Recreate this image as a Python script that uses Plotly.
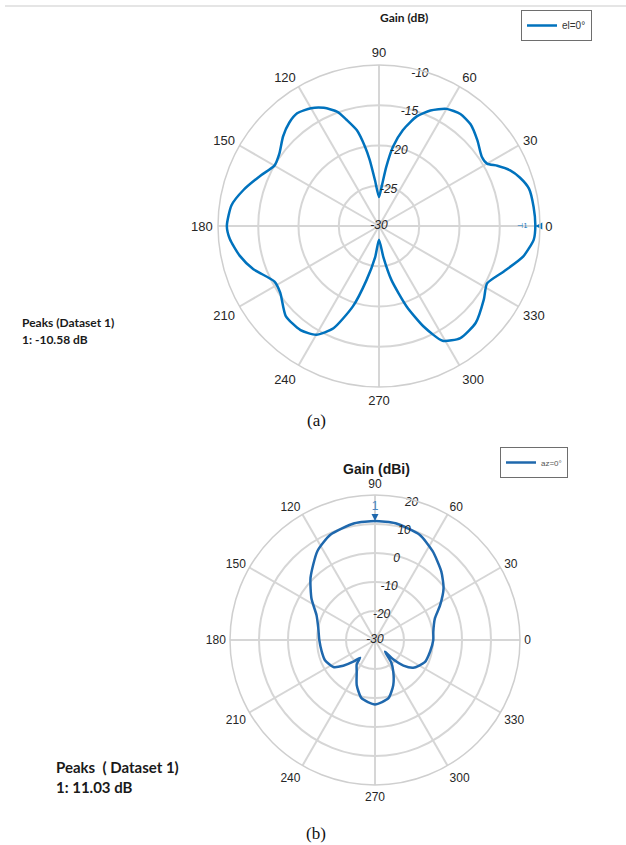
import plotly.graph_objects as go

# ---- Pattern (a): azimuth cut, el = 0 deg ----
angles_a = [0, 7, 14, 19, 23, 27, 30, 34, 41, 48, 54, 60, 66, 71, 76, 80, 83, 86, 90,
            95, 98, 100, 103, 107, 110, 115, 120, 126, 131, 137, 144, 150, 157, 165, 172, 180,
            185, 192, 199, 208, 214, 224, 233, 240, 246, 252, 257, 263, 270,
            278, 283, 289, 294, 299, 306, 315, 325, 332, 340, 348, 355, 360]
gain_a = [-10.58, -10.65, -10.8, -11.5, -12.3, -13.5, -14.5, -14.6, -13.8, -13.0, -12.8, -13.2,
          -14.3, -15.6, -17.7, -20.0, -22.6, -25.0, -26.4,
          -24.3, -21.7, -20.0, -17.8, -16.2, -14.9, -13.8, -13.1, -12.7, -13.0, -13.7, -14.7,
          -15.0, -14.0, -12.6, -11.5, -11.1,
          -11.4, -12.3, -13.5, -15.3, -15.2, -13.9, -13.8, -14.4, -16.1, -19.5, -23.1, -26.1, -28.3,
          -26.1, -23.1, -19.4, -16.3, -13.7, -12.8, -13.0, -14.1, -14.8, -13.5, -11.7, -10.7, -10.58]
peak_a_angle = [0]
peak_a_gain = [-10.58]
range_a = [-30, -10]
rticks_a = [-30, -25, -20, -15, -10]

# ---- Pattern (b): elevation cut, az = 0 deg ----
angles_b = [0, 8, 20, 28, 37, 46, 57, 67, 80, 90, 100, 113, 123, 136, 147, 157, 168, 180,
            192, 202, 213, 219, 225, 230, 233, 240, 248, 257, 270,
            283, 292, 300, 306, 310.5, 313, 318, 324, 336, 348, 360]
gain_b = [-9.9, -9.7, -8.0, -4.6, -0.4, 2.9, 6.5, 9.4, 10.9, 11.03, 10.9, 9.4, 6.5, 0.9, -3.9,
          -8.1, -10.0, -10.8,
          -11.2, -11.4, -12.9, -15.9, -19.4, -22.0, -19.5, -17.4, -13.2, -9.4, -7.8,
          -9.4, -13.2, -17.4, -20.5, -24.7, -21.0, -16.8, -13.7, -11.2, -10.6, -9.9]
peak_b_angle = [90]
peak_b_gain = [11.03]
range_b = [-30, 20]
rticks_b = [-30, -20, -10, 0, 10, 20]

theta_ticks = list(range(0, 360, 30))
RLABEL_ANGLE = 75  # direction along which the radial (dB) labels are written


def label_r(ticks, lo, inset):
    # pull each radial label slightly inside its ring, but never below the centre value
    return [max(t - inset, lo) for t in ticks]


fig = go.Figure()

fig.add_trace(go.Scatterpolar(
    r=gain_a, theta=angles_a, mode="lines", name="el=0°",
    line=dict(color="#0072BD", width=2.5, shape="spline", smoothing=0.6),
    subplot="polar", legend="legend"))
# radial tick labels (a), written on top of the grid and curve
fig.add_trace(go.Scatterpolar(
    r=label_r(rticks_a, range_a[0], 0.4), theta=[RLABEL_ANGLE] * len(rticks_a), mode="text",
    text=[str(t) for t in rticks_a],
    textfont=dict(size=12, color="#262626", family="Liberation Sans", style="italic"),
    showlegend=False, subplot="polar", cliponaxis=False, hoverinfo="skip"))
# peak marker (a): arrow tip sits on the peak, index label just inside
fig.add_trace(go.Scatterpolar(
    r=peak_a_gain, theta=peak_a_angle, mode="markers",
    marker=dict(symbol="arrow-left", size=7, color="#0072BD"),
    showlegend=False, subplot="polar", cliponaxis=False))
fig.add_trace(go.Scatterpolar(
    r=[g - 1.6 for g in peak_a_gain], theta=peak_a_angle, mode="text", text=["⊣1"],
    textfont=dict(size=7, color="#0072BD", family="Liberation Sans"),
    showlegend=False, subplot="polar", cliponaxis=False))

fig.add_trace(go.Scatterpolar(
    r=gain_b, theta=angles_b, mode="lines", name="az=0°",
    line=dict(color="#1f68ad", width=2.5, shape="spline", smoothing=0.6),
    subplot="polar2", legend="legend2"))
fig.add_trace(go.Scatterpolar(
    r=label_r(rticks_b, range_b[0], 1.2), theta=[RLABEL_ANGLE] * len(rticks_b), mode="text",
    text=[str(t) for t in rticks_b],
    textfont=dict(size=12, color="#262626", family="Liberation Sans", style="italic"),
    showlegend=False, subplot="polar2", cliponaxis=False, hoverinfo="skip"))
fig.add_trace(go.Scatterpolar(
    r=peak_b_gain, theta=peak_b_angle, mode="markers",
    marker=dict(symbol="arrow-down", size=7, color="#1f68ad"),
    showlegend=False, subplot="polar2", cliponaxis=False))
fig.add_trace(go.Scatterpolar(
    r=[g + 5.0 for g in peak_b_gain], theta=peak_b_angle, mode="text", text=["1"],
    textfont=dict(size=12, color="#4a86c2", family="Liberation Sans"),
    showlegend=False, subplot="polar2", cliponaxis=False))

W, H = 626, 845


def polar_cfg(cx, cy, rad, rng, rticks, tick_size, pad):
    return dict(
        domain=dict(x=[(cx - rad) / W, (cx + rad) / W],
                    y=[(H - cy - rad) / H, (H - cy + rad) / H]),
        bgcolor="white",
        angularaxis=dict(
            rotation=0, direction="counterclockwise",
            tickvals=theta_ticks, ticktext=[str(t) for t in theta_ticks],
            ticks="outside", ticklen=pad, tickcolor="rgba(0,0,0,0)",
            showline=True, linecolor="#cfcfcf", linewidth=1.5,
            gridcolor="#d6d6d6", gridwidth=1.5,
            tickfont=dict(family="Liberation Sans", size=tick_size, color="#262626")),
        radialaxis=dict(
            range=rng, tickvals=rticks, showticklabels=False,
            ticks="", showline=False,
            gridcolor="#d6d6d6", gridwidth=1.5),
    )


fig.update_layout(
    width=W, height=H,
    margin=dict(l=0, r=0, t=0, b=0),
    paper_bgcolor="white", plot_bgcolor="white",
    polar=polar_cfg(379, 226, 161, range_a, rticks_a, 13, 2),
    polar2=polar_cfg(375, 640, 145, range_b, rticks_b, 12, 1),
    legend=dict(x=521 / W, y=1 - 10 / H, xanchor="left", yanchor="top",
                bgcolor="white", bordercolor="#6e6e6e", borderwidth=1,
                font=dict(family="Liberation Sans", size=10, color="#333"),
                itemwidth=30, tracegroupgap=0),
    legend2=dict(x=500 / W, y=1 - 447 / H, xanchor="left", yanchor="top",
                 bgcolor="white", bordercolor="#6e6e6e", borderwidth=1,
                 font=dict(family="Liberation Sans", size=8, color="#555"),
                 itemwidth=30, tracegroupgap=0),
    showlegend=True,
)

# separator line at the top of the page
fig.add_shape(type="line", xref="paper", yref="paper",
              x0=5 / W, x1=1, y0=1 - 6 / H, y1=1 - 6 / H,
              line=dict(color="#dcdcdc", width=1.5))


def note(x, y, text, size, family, color="#1a1a1a", bold=False, xanchor="center"):
    fig.add_annotation(x=x / W, y=1 - y / H, xref="paper", yref="paper",
                       text=f"<b>{text}</b>" if bold else text, showarrow=False,
                       xanchor=xanchor, yanchor="middle",
                       font=dict(size=size, family=family, color=color))


note(404, 18, "Gain (dB)", 12, "Lato", bold=True)
note(376, 469, "Gain (dBi)", 14, "Liberation Sans", bold=True)
note(20, 322, "Peaks (Dataset 1)", 12, "Lato", bold=True, xanchor="left")
note(20, 339, "1: -10.58 dB", 12, "Lato", bold=True, xanchor="left")
note(54, 767, "Peaks  ( Dataset 1)", 15, "Lato", bold=True, xanchor="left")
note(54, 787, "1: 11.03 dB", 15, "Lato", bold=True, xanchor="left")
note(316, 420, "(a)", 17, "Liberation Serif", color="#111")
note(316, 833, "(b)", 17, "Liberation Serif", color="#111")

fig.write_html("out.html")
